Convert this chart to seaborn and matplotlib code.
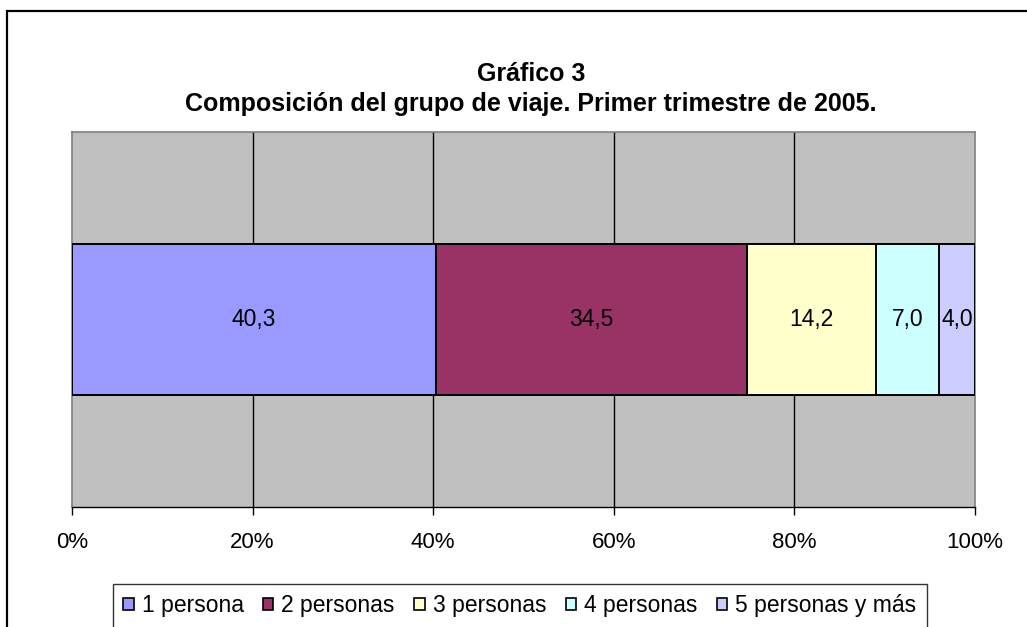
import matplotlib
matplotlib.use("Agg")
import matplotlib.pyplot as plt
from matplotlib.patches import Patch, Rectangle
import seaborn as sns
import pandas as pd
import numpy as np

categories = ["1 persona", "2 personas", "3 personas", "4 personas", "5 personas y más"]
values = [40.3, 34.5, 14.2, 7.0, 4.0]
colors = ["#9999FF", "#993366", "#FFFFCC", "#CCFFFF", "#CCCCFF"]
tick_vals = [0, 20, 40, 60, 80, 100]
tick_labels = ["0%", "20%", "40%", "60%", "80%", "100%"]
title_line1 = "Gráfico 3"
title_line2 = "Composición del grupo de viaje. Primer trimestre de 2005."

sns.set_theme(style="white")
plt.rcParams["font.family"] = ["Liberation Sans", "DejaVu Sans"]
plt.rcParams["text.color"] = "black"
plt.rcParams["xtick.color"] = "black"
plt.rcParams["axes.labelcolor"] = "black"

W, H = 1027, 627
fig = plt.figure(figsize=(W / 100, H / 100), dpi=100)
ax = fig.add_axes([72 / W, 1 - 507 / H, (975 - 72) / W, (507 - 132) / H])
ax.set_facecolor("#C0C0C0")

cum = np.cumsum(values)
df = pd.DataFrame({"cat": categories, "val": values, "cum": cum, "color": colors})

# draw from the longest cumulative bar to shortest so segments stack visually
for i in range(len(df) - 1, -1, -1):
    row = df.iloc[i]
    sns.barplot(x=[row["cum"]], y=["g"], orient="h", color=row["color"],
                saturation=1, width=0.403, edgecolor="black", linewidth=1.4,
                ax=ax, zorder=3)

for i, row in df.iterrows():
    ax.text(row["cum"] - row["val"] / 2, 0, f"{row['val']:.1f}".replace(".", ","),
            ha="center", va="center", fontsize=16.5, color="black", zorder=5)

ax.set_xlim(0, 100)
ax.set_ylim(0.5, -0.5)
ax.set_xticks(tick_vals)
ax.set_xticklabels(tick_labels, fontsize=16)
ax.set_yticks([])
ax.set_xlabel("")
ax.set_ylabel("")
for x in tick_vals[1:-1]:
    ax.axvline(x, color="black", lw=1, zorder=1)
ax.tick_params(axis="x", which="both", direction="out", length=6, width=1,
               color="black", labelcolor="black", pad=12, bottom=True)
for s in ["top", "left", "right"]:
    ax.spines[s].set_color("#808080")
    ax.spines[s].set_linewidth(1.2)
    ax.spines[s].set_visible(True)
ax.spines["bottom"].set_color("black")
ax.spines["bottom"].set_linewidth(1)
ax.spines["bottom"].set_visible(True)

fig.text(531 / W, 1 - 74 / H, title_line1, ha="center", va="center",
         fontsize=18, fontweight="bold", color="black")
fig.text(531 / W, 1 - 104 / H, title_line2, ha="center", va="center",
         fontsize=18, fontweight="bold", color="black")

handles = [Patch(facecolor=c, edgecolor="black", linewidth=1.2) for c in colors]
leg = fig.legend(handles, categories, loc="upper left",
                 bbox_to_anchor=(113 / W, 1 - 584 / H), bbox_transform=fig.transFigure,
                 ncol=5, fontsize=16.5, frameon=True, fancybox=False, shadow=False,
                 handlelength=0.45, handleheight=0.45, handletextpad=0.35,
                 columnspacing=0.85, borderpad=0.45, borderaxespad=0)
leg.get_frame().set_edgecolor("black")
leg.get_frame().set_linewidth(1)
leg.get_frame().set_facecolor("white")

fig.add_artist(Rectangle((7 / W, -0.5), 2, 1.5 - 11 / H, transform=fig.transFigure,
                         fill=False, edgecolor="black", lw=1.6, clip_on=False))

fig.savefig("out.png", dpi=100)
